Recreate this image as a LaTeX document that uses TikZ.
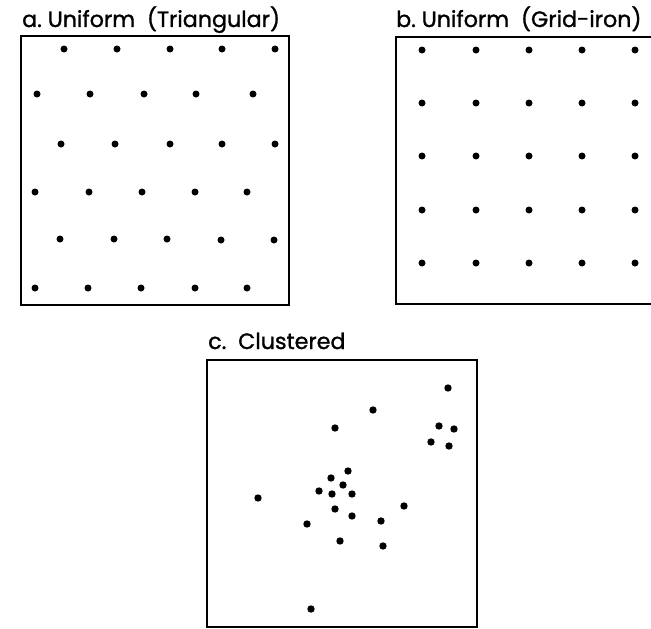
\documentclass[tikz,border=0pt]{standalone}
\usepackage{fontspec}
\setmainfont{Poppins}
\newfontfamily\ttlfont[FakeBold=1.2]{Poppins}
\begin{document}
\begin{tikzpicture}[x=1pt,y=-1pt,
  frame/.style={line width=2.8pt},
  pt/.style={fill=black},
  ttl/.style={anchor=base west,inner sep=0pt,font=\ttlfont\fontsize{22.2}{24}\selectfont}]
\useasboundingbox (0,0) rectangle (651,629);
% titles
\node[ttl] (ta) at (22,27) {a.\ Uniform\ \ (Triangular)};
\node[ttl] (tb) at (396,27) {b.\ Uniform\ \ (Grid-iron)};
\node[ttl] (tc) at (208,349) {c.\ \ Clustered};
% frames
\draw[frame] (21,36) rectangle (289,305);
\draw[frame] (651,37) -- (396,37) -- (396,304) -- (651,304);
\draw[frame] (207,360) rectangle (477,627);
% panel a
\foreach \x/\y in {64/49,117/49,170/49,222/49,275/49,
  37/94,90/94,144/94,196/94,253/94,
  61/144,115/144,170/144,222/144,275/144,
  35/192,89/192,142/192,195/192,247/192,
  60/239,114/239,167/239,221/240,274/240,
  35/288,88/288,141/288,195/288,247/288}
  \fill[pt] (\x,\y) circle (3.5);
% panel b
\foreach \x in {422,476,529,582,635}
  \foreach \y in {50,103,156,210,263}
    \fill[pt] (\x,\y) circle (3.5);
% panel c
\foreach \x/\y in {448/388,373/410,335/428,439/426,454/429,431/442,449/446,
  348/471,331/478,343/485,319/491,332/494,352/494,258/498,404/506,
  335/509,352/516,307/524,381/521,340/541,383/546,311/609}
  \fill[pt] (\x,\y) circle (3.7);
\end{tikzpicture}
\end{document}
